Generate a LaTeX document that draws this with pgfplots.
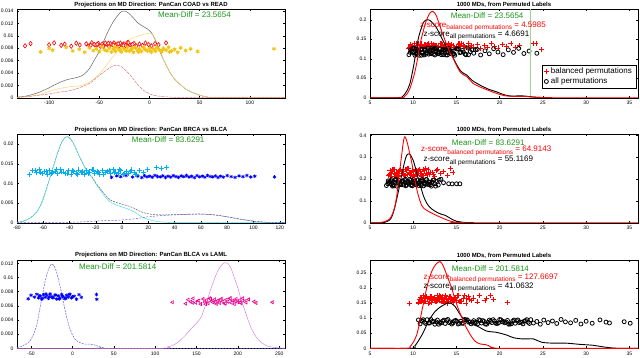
\documentclass[border=0pt]{standalone}
\usepackage{fontspec}
\setmainfont{Liberation Sans}
\usepackage{pgfplots}
\pgfplotsset{compat=1.18}

\definecolor{mdgreen}{RGB}{25,150,25}
\definecolor{ygold}{RGB}{242,196,20}
\definecolor{ycurve}{RGB}{245,215,120}
\definecolor{rcurve}{RGB}{225,120,120}
\definecolor{gcurve}{RGB}{100,100,100}
\definecolor{ccurve}{RGB}{70,225,230}
\definecolor{bcurve}{RGB}{100,95,220}
\definecolor{mcurve}{RGB}{225,130,225}
\definecolor{vline}{RGB}{150,215,150}

\newcommand{\zsub}[1]{\raisebox{-2.7pt}{\fontsize{6.5}{7}\selectfont #1}}

\pgfplotsset{
  panel/.style={
    scale only axis, width=268pt, height=88.5pt,
    anchor=south west,
    axis line style={line width=0.4pt},
    tick align=inside, major tick length=2pt,
    tick style={black, line width=0.4pt},
    tick label style={font=\fontsize{5}{6}\selectfont},
    /pgf/number format/assume math mode=true,
    yticklabel style={/pgf/number format/fixed, /pgf/number format/precision=3},
    scaled y ticks=false,
    every axis title shift=0pt,
    title style={font=\bfseries\fontsize{6}{7}\selectfont, inner sep=0pt, yshift=1.5pt},
    clip mode=individual,
  },
  rpanel/.style={panel, xmin=5, xmax=36, ymin=0, xtick={5,10,15,20,25,30,35},
    title={1000 MDs, from Permuted Labels}},
  thin curve/.style={line width=0.5pt, smooth},
  dens/.style={line width=0.9pt, smooth, forget plot},
  rplus/.style={only marks, mark=+, mark size=2.5pt, red, line width=0.7pt},
  kcirc/.style={only marks, mark=o, mark size=2pt, black, line width=0.8pt},
}
\tikzset{
  md/.style={text=mdgreen, font=\fontsize{8}{9}\selectfont, anchor=west, inner sep=0pt},
  zs/.style={font=\fontsize{8}{9}\selectfont, anchor=base west, inner sep=0pt},
}

\begin{document}
\begin{tikzpicture}

% ---------------- top left
\begin{axis}[panel, at={(17pt,259.3pt)},
  xmin=-132, xmax=135, ymin=0, ymax=0.0143,
  xtick={-100,-50,0,50,100},
  ytick={0,0.002,0.004,0.006,0.008,0.01,0.012,0.014},
  title={Projections on MD Direction: PanCan COAD vs READ}]
\addplot[thin curve, gcurve] coordinates {
(-132,0.0001) (-125,0.0002) (-117,0.0005) (-108,0.001) (-100,0.0016) (-93,0.0022)
(-86,0.0027) (-80,0.003) (-74,0.0032) (-68,0.0035) (-63,0.0041) (-59,0.0049)
(-56,0.0058) (-51,0.0072) (-46,0.009) (-41,0.0108) (-36,0.0123) (-31,0.0134)
(-27,0.014) (-23,0.0139) (-19,0.0134) (-15,0.0127) (-11,0.012) (-6,0.0115)
(-2,0.0111) (2,0.0105) (5,0.0096) (8,0.0086) (11,0.0072) (15,0.0058) (21,0.0039)
(26,0.0028) (31,0.0021) (36,0.0014) (42,0.0009) (50,0.0004) (58,0.0001) (66,0) (135,0)};
\addplot[thin curve, ycurve] coordinates {
(-132,0.00003) (-120,0.0002) (-110,0.0005) (-100,0.001) (-92,0.0014) (-86,0.0016)
(-78,0.0018) (-70,0.0019) (-64,0.0022) (-58,0.0027) (-52,0.0035) (-48,0.0042)
(-43,0.0052) (-39,0.0061) (-33,0.0073) (-28,0.0084) (-24,0.009) (-19,0.0095)
(-14,0.0098) (-9,0.0101) (-4,0.0103) (0,0.0104) (3,0.0102) (6,0.0094) (9,0.0082)
(12,0.007) (15,0.0058) (21,0.0039) (26,0.0028) (31,0.0021) (36,0.0014) (42,0.0009)
(50,0.0004) (58,0.0001) (66,0) (135,0)};
\addplot[thin curve, rcurve, dash pattern=on 3pt off 1pt] coordinates {
(-132,0.00005) (-120,0.0002) (-110,0.0004) (-100,0.0006) (-90,0.0009) (-80,0.0011)
(-70,0.0016) (-60,0.0023) (-55,0.0029) (-50,0.0036) (-45,0.0042) (-40,0.0048)
(-35,0.0052) (-31,0.0052) (-27,0.0049) (-23,0.0043) (-19,0.0036) (-15,0.0028)
(-11,0.002) (-6,0.0012) (-2,0.0008) (4,0.0004) (12,0.0002) (25,0.00005) (40,0) (135,0)};
\addplot[only marks, mark=diamond*, mark size=2.2pt, red, line width=0.6pt,
  mark options={fill=white}] coordinates {
(-124,0.00837) (-118.5,0.00874) (-100,0.00855) (-95,0.00886) (-88,0.00846)
(-84.5,0.00865) (-78,0.00832) (-73,0.00881) (-69.5,0.00852) (-63,0.0087)
(-60,0.00841) (-57.5,0.00888) (-55,0.0086) (-53,0.00849) (-51,0.00877)
(-49,0.00835) (-47,0.00867) (-45.5,0.00844) (-44,0.00883) (-42,0.00857)
(-40.5,0.00837) (-39,0.00874) (-37,0.00855) (-35.5,0.00886) (-34,0.00846)
(-32,0.00865) (-30.5,0.00832) (-29,0.00881) (-27,0.00852) (-25.5,0.0087)
(-24,0.00841) (-22,0.00888) (-20,0.0086) (-18,0.00849) (-15.5,0.00877)
(-13,0.00835) (-10,0.00867) (-7,0.00844) (-4,0.00883) (-1,0.00857)
(2,0.00837) (5.5,0.00874) (9,0.00855) (16.5,0.00886) (-58.5,0.00846)
(-52,0.00865) (-46,0.00832) (-41,0.00881) (-36,0.00852) (-31,0.0087)
(-26,0.00841) (-21,0.00888) (-17,0.0086)};
\addplot[only marks, mark=asterisk, mark size=2pt, ygold, line width=0.9pt] coordinates {
(-108.5,0.00741) (-100,0.00797) (-96.5,0.00767) (-83,0.00814) (-76.5,0.00754)
(-70,0.00782) (-64.5,0.00734) (-60,0.00807) (-56,0.00762) (-53,0.0079)
(-50,0.00747) (-47.5,0.00817) (-45,0.00775) (-42.5,0.00758) (-40,0.00801)
(-38,0.00737) (-36,0.00786) (-34,0.00751) (-32,0.00809) (-30,0.00771)
(-28,0.00741) (-26,0.00797) (-24,0.00767) (-22,0.00814) (-20,0.00754)
(-18,0.00782) (-16,0.00734) (-14,0.00807) (-12,0.00762) (-10,0.0079)
(-8,0.00747) (-6,0.00817) (-4,0.00775) (-2,0.00758) (0,0.00801)
(2,0.00737) (4,0.00786) (6,0.00751) (8,0.00809) (10,0.00771)
(12,0.00741) (14,0.00797) (16.5,0.00767) (19,0.00814) (22,0.00754)
(25,0.00782) (28,0.00734) (31,0.00807) (36,0.00762) (41,0.0079)
(48,0.00747) (124,0.0079) (-35,0.00817) (-29,0.00775) (-23,0.00758)
(-17,0.00801) (-11,0.00737) (-5,0.00786) (1,0.00751) (7,0.00809)
(13,0.00771) (20,0.00741)};
\node[md] at (axis cs:8.5,0.01336) {Mean-Diff = 23.5654};
\end{axis}

% ---------------- middle left
\begin{axis}[panel, at={(17pt,134.3pt)},
  xmin=-80, xmax=124, ymin=0, ymax=0.0225,
  xtick={-80,-60,-40,-20,0,20,40,60,80,100,120},
  ytick={0,0.005,0.01,0.015,0.02},
  title={Projections on MD Direction: PanCan BRCA vs BLCA}]
\addplot[thin curve, gcurve, dash pattern=on 2pt off 1pt] coordinates {
(-80,0.0001) (-75,0.0004) (-70,0.0012) (-65,0.0027) (-61,0.0052) (-57.5,0.0087)
(-54,0.0125) (-51,0.0157) (-48,0.0188) (-45,0.021) (-42,0.0219) (-39,0.0212)
(-36,0.0195) (-33,0.0172) (-29,0.0145) (-26,0.0128) (-23,0.0117) (-20,0.0101)
(-16,0.0084) (-13,0.0071) (-9,0.0058) (-5,0.0052) (0,0.0047) (5,0.0042)
(9,0.0037) (13,0.003) (17,0.0025) (21,0.0022) (27,0.002) (35,0.002) (45,0.0021)
(55,0.0022) (62,0.0022) (70,0.002) (80,0.0015) (90,0.0009) (100,0.0004)
(110,0.0001) (124,0)};
\addplot[thin curve, ccurve] coordinates {
(-80,0.0001) (-75,0.0004) (-70,0.0012) (-65,0.0027) (-61,0.0052) (-57.5,0.0087)
(-54,0.0125) (-51,0.0157) (-48,0.0188) (-45,0.021) (-42,0.0219) (-39,0.0212)
(-36,0.0195) (-33,0.0172) (-29,0.0145) (-26,0.0127) (-23,0.0115) (-20,0.0099)
(-16,0.008) (-13,0.0066) (-9,0.0053) (-5,0.0046) (0,0.004) (5,0.0034) (9,0.0028)
(13,0.0019) (17,0.0012) (21,0.0007) (27,0.0003) (35,0.0001) (45,0) (124,0)};
\addplot[thin curve, bcurve, dash pattern=on 2pt off 1.5pt] coordinates {
(-80,0) (-40,0.0001) (-25,0.0003) (-15,0.0005) (-5,0.0006) (0,0.0007) (10,0.001)
(20,0.0015) (30,0.0018) (40,0.002) (50,0.0021) (60,0.0022) (70,0.002) (80,0.0015)
(90,0.0009) (100,0.0004) (110,0.0001) (124,0)};
\addplot[only marks, mark=asterisk, mark size=1.8pt, blue, line width=0.7pt] coordinates {
(-8,0.01152) (-4,0.01189) (-1,0.0117) (3,0.01201) (8,0.01161) (12,0.0118)
(15,0.01147) (17,0.01196) (19,0.01167) (21,0.01185) (23,0.01156) (25,0.01203)
(27,0.01175) (29,0.01164) (31,0.01192) (33,0.0115) (35,0.01182) (37,0.01159)
(39,0.01198) (41,0.01172) (43,0.01152) (45,0.01189) (47,0.0117) (49,0.01201)
(51,0.01161) (53,0.0118) (55,0.01147) (57,0.01196) (59,0.01167) (61,0.01185)
(63,0.01156) (65,0.01203) (67,0.01175) (69,0.01164) (71,0.01192) (73,0.0115)
(75,0.01182) (77,0.01159) (80,0.01198) (83,0.01172) (86,0.01152) (89,0.01189)
(92,0.0117) (95,0.01201) (98,0.01161) (101,0.0118) (116,0.01165)};
\addplot[only marks, mark=+, mark size=2.5pt, cyan, line width=0.7pt] coordinates {
(-70.5,0.01237) (-68,0.01324) (-65,0.01277) (-63,0.0135) (-61,0.01258)
(-59,0.01301) (-57,0.01226) (-55,0.01339) (-53,0.0127) (-51,0.01314)
(-49,0.01247) (-47,0.01356) (-45,0.0129) (-43,0.01263) (-41,0.01331)
(-39,0.01231) (-37,0.01307) (-35,0.01252) (-33,0.01343) (-31,0.01283)
(-29,0.01237) (-27,0.01324) (-25,0.01277) (-23,0.0135) (-21,0.01258)
(-19,0.01301) (-17,0.01226) (-15,0.01339) (-13,0.0127) (-11,0.01314)
(-9,0.01247) (-7,0.01356) (-5,0.0129) (-3,0.01263) (-1,0.01331)
(1,0.01231) (3,0.01307) (5,0.01252) (7,0.01343) (9,0.01283)
(11,0.01237) (13,0.01324) (16,0.01277) (19,0.0135)
(26,0.0141) (30,0.0139) (33.5,0.0141)
(-66,0.01339) (-62,0.0127) (-58,0.01314) (-54,0.01247) (-50,0.01356)
(-46,0.0129) (-42,0.01263) (-38,0.01331) (-34,0.01231) (-30,0.01307)
(-26,0.01252) (-22,0.01343) (-18,0.01283) (-14,0.01237) (-10,0.01324)
(-6,0.01277) (-2,0.0135) (2,0.01258) (6,0.01301) (10,0.01226)};
\node[md] at (axis cs:7.3,0.021) {Mean-Diff = 83.6291};
\end{axis}

% ---------------- bottom left
\begin{axis}[panel, at={(17pt,8.7pt)},
  xmin=-67, xmax=257, ymin=0, ymax=0.0125,
  xtick={-50,0,50,100,150,200,250},
  ytick={0,0.002,0.004,0.006,0.008,0.01,0.012},
  title={Projections on MD Direction: PanCan BLCA vs LAML}]
\addplot[thin curve, bcurve, dash pattern=on 2pt off 1pt] coordinates {
(-67,0.0001) (-63,0.0002) (-58,0.0005) (-53,0.0008) (-49,0.0015) (-46,0.0023)
(-43,0.0034) (-40,0.0052) (-37,0.0071) (-34,0.0089) (-31,0.0104) (-28,0.0114)
(-25,0.0119) (-22,0.0116) (-19,0.0107) (-16,0.0093) (-13,0.0077) (-10,0.006)
(-7,0.0044) (-4,0.0031) (0,0.0019) (4,0.0012) (9,0.0008) (15,0.0006) (21,0.0006)
(26,0.0005) (31,0.0003) (37,0.0001) (45,0) (257,0)};
\addplot[thin curve, mcurve] coordinates {
(-67,0) (105,0) (115,0.0002) (123,0.0005) (130,0.0011) (137,0.0019) (143,0.0027)
(148,0.0033) (152,0.0038) (156,0.0045) (160,0.0058) (164,0.0072) (168,0.0086)
(172,0.0099) (176,0.011) (180,0.0117) (184,0.0121) (188,0.012) (192,0.0112)
(196,0.0099) (200,0.0085) (204,0.0069) (208,0.0055) (212,0.0041) (216,0.0029)
(220,0.002) (224,0.0013) (229,0.0008) (234,0.0004) (240,0.0002) (246,0.0001) (257,0)};
\addplot[only marks, mark=asterisk, mark size=1.8pt, blue, line width=0.7pt] coordinates {
(-53.5,0.007) (-50,0.00749) (-46,0.00723) (-43,0.00764) (-41,0.00712)
(-39,0.00736) (-37,0.00693) (-35,0.00758) (-33,0.00719) (-31,0.00744)
(-29,0.00705) (-27,0.00768) (-25,0.0073) (-23,0.00715) (-21,0.00753)
(-19,0.00696) (-17,0.0074) (-15,0.00708) (-13,0.0076) (-11,0.00726)
(-9,0.007) (-7,0.00749) (-5,0.00723) (-3,0.00764) (-1,0.00712)
(2,0.00736) (5,0.00693) (8,0.00758) (10.8,0.00719)
(-40,0.00744) (-36,0.00705) (-32,0.00768) (-28,0.0073) (-24,0.00715)
(-20,0.00753) (-16,0.00696) (-12,0.0074) (-8,0.00708) (-4,0.0076) (0,0.00726)
(29,0.0076) (29.5,0.00692)};
\addplot[only marks, mark=triangle*, mark size=1.8pt, magenta, line width=0.6pt,
  mark options={rotate=90, fill=white}] coordinates {
(137,0.00631) (140,0.00687) (143,0.00657) (146,0.00704) (149,0.00644)
(152,0.00672) (155,0.00624) (158,0.00697) (160,0.00652) (162,0.0068)
(164,0.00637) (166,0.00707) (168,0.00665) (170,0.00648) (172,0.00691)
(174,0.00627) (176,0.00676) (178,0.00641) (180,0.00699) (182,0.00661)
(184,0.00631) (186,0.00687) (188,0.00657) (190,0.00704) (192,0.00644)
(194,0.00672) (196,0.00624) (198,0.00697) (200,0.00652) (202,0.0068)
(204,0.00637) (206,0.00707) (208,0.00665) (210,0.00648) (213,0.00691)
(145,0.00644) (153,0.00672) (161,0.00624) (167,0.00697) (173,0.00652)
(179,0.0068) (185,0.00637) (191,0.00707) (197,0.00665) (203,0.00648)
(121,0.0065) (219.6,0.0066) (222,0.0064) (241.7,0.0065)};
\node[md] at (axis cs:8,0.01153) {Mean-Diff = 201.5814};
\end{axis}

% ---------------- top right
\begin{axis}[rpanel, at={(370pt,259.3pt)}, ymax=0.227,
  ytick={0,0.05,0.1,0.15,0.2},
  legend style={at={(0.9925,0.106)}, anchor=south east,
    font=\fontsize{8}{9}\selectfont, draw=black, line width=0.4pt,
    inner xsep=2pt, inner ysep=1pt, row sep=-1.5pt},
  legend cell align=left]
\addplot[rplus] coordinates {
(9.4,0.1277) (9.7,0.1364) (9.9,0.1317) (10.1,0.139) (10.3,0.1298) (10.5,0.1341)
(10.7,0.1266) (10.9,0.1379) (11.1,0.131) (11.3,0.1354) (11.5,0.1287) (11.7,0.1396)
(11.9,0.133) (12.1,0.1303) (12.3,0.1371) (12.5,0.1271) (12.7,0.1347) (12.9,0.1292)
(13.1,0.1383) (13.3,0.1323) (13.5,0.1277) (13.7,0.1364) (13.9,0.1317) (14.1,0.139)
(14.3,0.1298) (14.6,0.1341) (14.9,0.1266) (15.2,0.1379) (15.5,0.131) (15.8,0.1354)
(16.1,0.1287) (16.4,0.1396) (16.7,0.133) (17.0,0.1303) (17.4,0.1371) (17.8,0.1271)
(18.2,0.1347) (18.6,0.1292) (19.0,0.1383) (19.4,0.1323) (19.8,0.1277) (20.3,0.1364)
(20.8,0.1317) (21.3,0.139) (21.8,0.1298) (22.3,0.1341) (23.9,0.1395) (24.2,0.1385)
(24.85,0.123)
(10.0,0.1287) (10.4,0.1396) (10.8,0.133) (11.2,0.1303) (11.6,0.1371) (12.0,0.1271)
(12.4,0.1347) (12.8,0.1292) (13.2,0.1383) (13.6,0.1323) (14.0,0.1277) (14.4,0.1364)
(15.0,0.1317) (15.6,0.139) (16.2,0.1298)
(9.55,0.1298) (9.85,0.1341) (10.25,0.1266) (10.65,0.1379) (10.95,0.131) (11.35,0.1354)
(11.75,0.1287) (12.15,0.1396) (12.55,0.133) (12.95,0.1303) (13.35,0.1371) (13.75,0.1271)
(14.15,0.1347) (14.75,0.1292) (15.35,0.1383) (15.95,0.1323) (16.55,0.1277)};
\addlegendentry{balanced permutations}
\addplot[kcirc] coordinates {
(9.5,0.1104) (9.7,0.1228) (9.9,0.1162) (10.1,0.1266) (10.3,0.1134) (10.5,0.1196)
(10.7,0.1088) (10.9,0.125) (11.1,0.1152) (11.3,0.1214) (11.5,0.1118) (11.7,0.1274)
(11.9,0.118) (12.1,0.1142) (12.3,0.1238) (12.5,0.1096) (12.7,0.1204) (12.9,0.1126)
(13.1,0.1256) (13.3,0.117) (13.5,0.1104) (13.7,0.1228) (13.9,0.1162) (14.1,0.1266)
(14.3,0.1134) (14.5,0.1196) (14.8,0.1088) (15.1,0.125) (15.4,0.1152) (15.7,0.1214)
(16.0,0.1118) (16.3,0.1274) (16.6,0.118) (17.0,0.1142) (17.4,0.1238) (17.8,0.1096)
(18.3,0.1204) (18.8,0.1126) (19.3,0.1256) (19.8,0.117) (20.4,0.1104) (21.0,0.1228)
(21.6,0.1162) (22.2,0.1266) (22.8,0.1134) (23.4,0.1196) (24.3,0.114)
(9.8,0.1196) (10.2,0.1088) (10.6,0.125) (11.0,0.1152) (11.4,0.1214) (11.8,0.1118)
(12.2,0.1274) (12.6,0.118) (13.0,0.1142) (13.4,0.1238) (13.8,0.1096) (14.2,0.1204)
(14.6,0.1126) (15.2,0.1256) (15.8,0.117) (16.4,0.1104) (17.2,0.1228)
(10.05,0.118) (10.45,0.1142) (10.85,0.1238) (11.25,0.1096) (11.65,0.1204)
(12.05,0.1126) (12.45,0.1256) (12.85,0.117) (13.25,0.1104) (13.65,0.1228) (14.05,0.1162)
(9.65,0.1162) (9.95,0.1266) (10.35,0.1134) (10.65,0.1196) (10.95,0.1088) (11.35,0.125)
(11.55,0.1152) (11.95,0.1214) (12.35,0.1118) (12.55,0.1274) (12.95,0.118) (13.35,0.1142)
(13.55,0.1238) (13.95,0.1096) (14.35,0.1204) (14.7,0.1126) (15.0,0.1256) (15.5,0.117)
(16.1,0.1104) (16.8,0.1228)};
\addlegendentry{all permutations}
\addplot[vline, line width=0.5pt, forget plot] coordinates {(23.5654,0) (23.5654,0.227)};
\addplot[dens, black] coordinates {
(5,0) (8.3,0) (8.8,0.004) (9.2,0.015) (9.6,0.035) (10,0.076) (10.3,0.115) (10.6,0.153)
(10.9,0.176) (11.16,0.192) (11.45,0.199) (11.75,0.2) (12.0,0.197) (12.3,0.19)
(12.7,0.179) (13.1,0.162) (13.5,0.144) (14,0.125) (14.45,0.11) (14.9,0.09)
(15.4,0.071) (15.8,0.063) (16.2,0.058) (16.5,0.051) (16.9,0.043) (17.5,0.035)
(18.1,0.028) (18.8,0.021) (19.6,0.0155) (20.2,0.01) (20.8,0.006) (21.5,0.004)
(22.3,0.005) (23,0.004) (24,0.0015) (25,0.0003) (26,0)};
\addplot[dens, red] coordinates {
(5,0) (8.5,0) (9,0.003) (9.3,0.01) (9.62,0.024) (9.9,0.043) (10.2,0.067) (10.5,0.1)
(10.78,0.136) (11.07,0.163) (11.36,0.187) (11.65,0.205) (11.94,0.2175) (12.25,0.2216)
(12.5,0.217) (12.7,0.209) (13,0.19) (13.3,0.17) (13.6,0.152) (13.87,0.136)
(14.2,0.118) (14.6,0.1015) (15,0.083) (15.4,0.067) (15.8,0.059) (16.2,0.054)
(16.5,0.047) (16.9,0.037) (17.5,0.03) (18.1,0.024) (18.7,0.019) (19.25,0.014)
(19.8,0.01) (20.4,0.006) (21,0.004) (22,0.003) (23,0.003) (24,0.0015) (25,0.0005)
(26,0) (36,0)};
\node[md] at (axis cs:14.33,0.2096) {Mean-Diff = 23.5654};
\node[zs, text=red] at (axis cs:10.78,0.1806) {z-score\zsub{balanced permutations} = 4.5985};
\node[zs] at (axis cs:11.17,0.1575) {z-score\zsub{all permutations} = 4.6691};
\end{axis}

% ---------------- middle right
\begin{axis}[rpanel, at={(370pt,134.3pt)}, ymax=0.405,
  ytick={0,0.1,0.2,0.3,0.4}]
\addplot[rplus] coordinates {
(7.1,0.2146) (7.3,0.2381) (7.5,0.2256) (7.7,0.2453) (7.9,0.2203) (8.1,0.232)
(8.3,0.2115) (8.5,0.2423) (8.7,0.2237) (8.9,0.2355) (9.1,0.2172) (9.3,0.2469)
(9.5,0.229) (9.7,0.2218) (9.9,0.24) (10.1,0.213) (10.3,0.2336) (10.5,0.2187)
(10.7,0.2434) (10.9,0.2271) (11.1,0.2146) (11.3,0.2381) (11.5,0.2256) (11.7,0.2453)
(11.9,0.2203) (12.2,0.232) (12.5,0.2115) (12.8,0.2423) (13.1,0.2237) (13.5,0.2355)
(14.0,0.2172) (14.3,0.2469) (14.6,0.229)
(7.2,0.2218) (7.6,0.24) (8.0,0.213) (8.4,0.2336) (8.8,0.2187) (9.2,0.2434)
(9.6,0.2271) (10.0,0.2146) (10.4,0.2381) (10.8,0.2256) (11.2,0.2453) (11.6,0.2203)
(12.0,0.232)
(7.4,0.2115) (7.8,0.2423) (8.2,0.2237) (8.6,0.2355) (9.0,0.2172) (9.4,0.2469)
(9.8,0.229) (10.2,0.2218) (10.6,0.24) (11.0,0.213)
(7.25,0.2187) (7.55,0.2434) (7.85,0.2271) (8.15,0.2146) (8.45,0.2381) (8.75,0.2256)
(9.05,0.2453) (9.35,0.2203) (9.65,0.232) (9.95,0.2115) (10.25,0.2423) (10.55,0.2237)
(10.85,0.2355) (11.15,0.2172) (11.45,0.2469) (11.8,0.229) (12.3,0.2218) (12.65,0.24)};
\addplot[kcirc] coordinates {
(6.9,0.1701) (7.1,0.1912) (7.3,0.1799) (7.5,0.1976) (7.7,0.1752) (7.9,0.1857)
(8.1,0.1674) (8.3,0.1949) (8.5,0.1782) (8.7,0.1888) (8.9,0.1725) (9.1,0.199)
(9.3,0.183) (9.5,0.1765) (9.7,0.1929) (9.9,0.1687) (10.1,0.1871) (10.3,0.1738)
(10.5,0.1959) (10.7,0.1813) (10.9,0.1701) (11.1,0.1912) (11.3,0.1799) (11.5,0.1976)
(11.7,0.1752) (11.9,0.1857) (12.1,0.1674) (12.3,0.1949) (12.5,0.1782) (12.7,0.1888)
(12.9,0.1725) (13.2,0.199) (13.5,0.183) (14.1,0.1785) (14.5,0.1775) (15.0,0.178)
(15.4,0.1779)
(7.2,0.1857) (7.6,0.1674) (8.0,0.1949) (8.4,0.1782) (8.8,0.1888) (9.2,0.1725)
(9.6,0.199) (10.0,0.183) (10.4,0.1765) (10.8,0.1929) (11.2,0.1687) (11.6,0.1871)
(12.0,0.1738) (12.4,0.1959)
(7.4,0.1929) (7.8,0.1687) (8.2,0.1871) (8.6,0.1738) (9.0,0.1959) (9.4,0.1813)
(9.8,0.1701) (10.2,0.1912) (10.6,0.1799) (11.0,0.1976) (11.4,0.1752) (11.8,0.1857)
(7.05,0.1782) (7.35,0.1888) (7.65,0.1725) (7.95,0.199) (8.25,0.183) (8.55,0.1765)
(8.85,0.1929) (9.15,0.1687) (9.45,0.1871) (9.75,0.1738) (10.05,0.1959) (10.35,0.1813)
(10.65,0.1701) (10.95,0.1912) (11.25,0.1799) (11.55,0.1976) (11.85,0.1752) (12.2,0.1857)
(12.6,0.1674) (13.0,0.1949)};
\addplot[dens, black] coordinates {
(5,0) (6.3,0) (6.8,0.003) (7.2,0.01) (7.5,0.025) (7.8,0.06) (8.1,0.11) (8.4,0.165)
(8.66,0.216) (8.95,0.27) (9.24,0.308) (9.54,0.315) (9.8,0.302) (10,0.285) (10.3,0.245)
(10.58,0.201) (10.9,0.16) (11.16,0.125) (11.45,0.098) (11.74,0.079) (12.1,0.064)
(12.5,0.053) (13.1,0.041) (13.67,0.034) (14.05,0.026) (14.45,0.016) (15,0.007)
(15.4,0.004) (16,0.001) (17,0)};
\addplot[dens, red] coordinates {
(5,0) (6,0) (6.5,0.003) (7,0.01) (7.3,0.018) (7.6,0.04) (7.9,0.079) (8.1,0.125)
(8.27,0.186) (8.47,0.25) (8.66,0.308) (8.82,0.36) (8.97,0.391) (9.1,0.39) (9.3,0.368)
(9.55,0.325) (9.82,0.277) (10.1,0.215) (10.4,0.155) (10.7,0.11) (10.98,0.079)
(11.25,0.065) (11.55,0.057) (11.9,0.049) (12.3,0.041) (12.7,0.033) (13.1,0.026)
(13.5,0.019) (13.87,0.013) (14.4,0.006) (15,0.002) (16,0) (36,0)};
\node[md] at (axis cs:14.45,0.366) {Mean-Diff = 83.6291};
\node[zs, text=red] at (axis cs:10.9,0.3245) {z-score\zsub{balanced permutations} = 64.9143};
\node[zs] at (axis cs:11.17,0.2796) {z-score\zsub{all permutations} = 55.1169};
\end{axis}

% ---------------- bottom right
\begin{axis}[rpanel, at={(370pt,8.7pt)}, ymax=0.293,
  ytick={0,0.05,0.1,0.15,0.2,0.25}]
\addplot[rplus] coordinates {
(10.6,0.1514) (10.8,0.1687) (11.0,0.1595) (11.2,0.174) (11.4,0.1556) (11.6,0.1642)
(11.8,0.1491) (12.0,0.1718) (12.2,0.1581) (12.4,0.1668) (12.6,0.1533) (12.8,0.1752)
(13.0,0.162) (13.2,0.1567) (13.4,0.1701) (13.6,0.1502) (13.8,0.1654) (14.0,0.1544)
(14.2,0.1726) (14.4,0.1606) (14.6,0.1514) (14.8,0.1687) (15.0,0.1595) (15.2,0.174)
(15.5,0.1556) (15.8,0.1642) (16.1,0.1491) (16.4,0.1718) (16.7,0.1581) (17.0,0.1668)
(17.4,0.1533) (17.7,0.1752)
(9.6,0.149) (18.3,0.158) (18.5,0.166) (18.9,0.176) (19.3,0.163) (20.9,0.151)
(10.7,0.162) (11.1,0.1567) (11.5,0.1701) (11.9,0.1502) (12.3,0.1654) (12.7,0.1544)
(13.1,0.1726) (13.5,0.1606) (13.9,0.1514) (14.3,0.1687) (14.7,0.1595) (15.1,0.174)
(15.6,0.1556) (16.2,0.1642)
(10.9,0.1556) (11.3,0.1642) (11.7,0.1491) (12.1,0.1718) (12.5,0.1581) (12.9,0.1668)
(13.3,0.1533) (13.7,0.1752) (14.1,0.162) (14.5,0.1567)
(10.65,0.1502) (10.95,0.1654) (11.25,0.1544) (11.55,0.1726) (11.85,0.1606) (12.15,0.1514)
(12.45,0.1687) (12.75,0.1595) (13.05,0.174) (13.35,0.1556) (13.65,0.1642) (13.95,0.1491)
(14.25,0.1718) (14.55,0.1581) (14.85,0.1668) (15.3,0.1533) (15.9,0.1752) (16.5,0.162)};
\addplot[kcirc] coordinates {
(10.6,0.094) (10.8,0.081) (11.0,0.0916) (11.3,0.086) (11.6,0.0948) (11.9,0.0836)
(12.2,0.0889) (12.5,0.0797) (12.8,0.0935) (13.1,0.0851) (13.4,0.0904) (13.7,0.0822)
(14.0,0.0955) (14.3,0.0875) (14.6,0.0843) (14.9,0.0924) (15.2,0.0804) (15.5,0.0895)
(15.8,0.0829) (16.1,0.094) (16.4,0.0867) (16.7,0.081) (17.0,0.0916) (17.3,0.086)
(17.6,0.0948) (17.9,0.0836) (18.2,0.0889) (18.5,0.0797) (18.8,0.0935) (19.1,0.0851)
(19.4,0.0904) (19.7,0.0822) (20.0,0.0955) (20.3,0.0875) (20.6,0.0843) (20.9,0.0924)
(21.2,0.0804) (21.5,0.0895) (21.8,0.0829) (22.1,0.094) (22.4,0.0867) (22.7,0.081)
(23.0,0.0916) (23.3,0.086) (23.6,0.0948) (23.9,0.0836) (24.3,0.0889) (24.7,0.0797)
(25.1,0.0935) (25.6,0.0851) (26.1,0.0904) (26.6,0.0822) (27.1,0.0955) (27.6,0.0875)
(28.2,0.0843) (28.8,0.0924) (29.4,0.0804) (30.0,0.0895) (30.7,0.0829) (31.6,0.094)
(32.3,0.0867) (32.7,0.084) (34.4,0.088) (35.1,0.083)
(11.15,0.0948) (11.75,0.0836) (12.35,0.0889) (12.95,0.0797) (13.55,0.0935)
(14.15,0.0851) (14.75,0.0904) (15.35,0.0822) (15.95,0.0955) (16.55,0.0875)
(17.15,0.0843) (17.75,0.0924) (18.35,0.0804) (18.95,0.0895) (19.55,0.0829)
(20.15,0.094) (20.75,0.0867) (21.35,0.081) (21.95,0.0916) (22.55,0.086) (23.15,0.0948)
(10.95,0.0904) (11.45,0.0822) (12.05,0.0955) (12.65,0.0875) (13.25,0.0843) (13.85,0.0924)
(14.45,0.0804) (15.05,0.0895) (15.65,0.0829) (16.25,0.094) (16.85,0.0867) (17.45,0.081)
(18.05,0.0916) (18.65,0.086) (19.25,0.0948) (19.85,0.0836) (20.45,0.0889) (21.05,0.0797)
(21.65,0.0935) (22.25,0.0851) (22.85,0.0904) (23.45,0.0822)};
\addplot[dens, black] coordinates {
(5,0) (9.8,0) (10.2,0.008) (10.78,0.033) (11.2,0.055) (11.74,0.088) (12.1,0.105)
(12.5,0.121) (13,0.134) (13.5,0.143) (14.07,0.151) (14.45,0.148) (14.85,0.138)
(15.2,0.122) (15.6,0.105) (16.1,0.092) (16.56,0.083) (17.5,0.072) (18.5,0.057)
(19.6,0.053) (20.8,0.044) (21.6,0.035) (22.7,0.031) (23.9,0.031) (24.85,0.02)
(26.2,0.017) (27.7,0.017) (29.3,0.013) (30.8,0.01) (31.9,0.005) (33.1,0.001) (34,0) (36,0)};
\addplot[dens, red] coordinates {
(5,0) (9.3,0) (9.62,0.005) (10,0.02) (10.4,0.044) (10.7,0.08) (10.98,0.121)
(11.27,0.16) (11.55,0.199) (11.84,0.23) (12.13,0.254) (12.42,0.27) (12.71,0.281)
(13.1,0.287) (13.4,0.277) (13.67,0.259) (14.05,0.23) (14.45,0.199) (14.8,0.165)
(15.2,0.132) (15.6,0.103) (15.98,0.077) (16.4,0.055) (16.76,0.038) (17.1,0.025)
(17.5,0.017) (17.8,0.014) (18.1,0.013) (18.4,0.012) (18.7,0.009) (19,0.004)
(19.4,0.001) (20,0) (36,0)};
\node[md] at (axis cs:14.45,0.2649) {Mean-Diff = 201.5814};
\node[zs, text=red] at (axis cs:11.17,0.2294) {z-score\zsub{balanced permutations} = 127.6697};
\node[zs] at (axis cs:11.17,0.1996) {z-score\zsub{all permutations} = 41.0632};
\end{axis}

\pgfresetboundingbox
\path[use as bounding box] (0,0) rectangle (640pt,357pt);
\end{tikzpicture}
\end{document}
